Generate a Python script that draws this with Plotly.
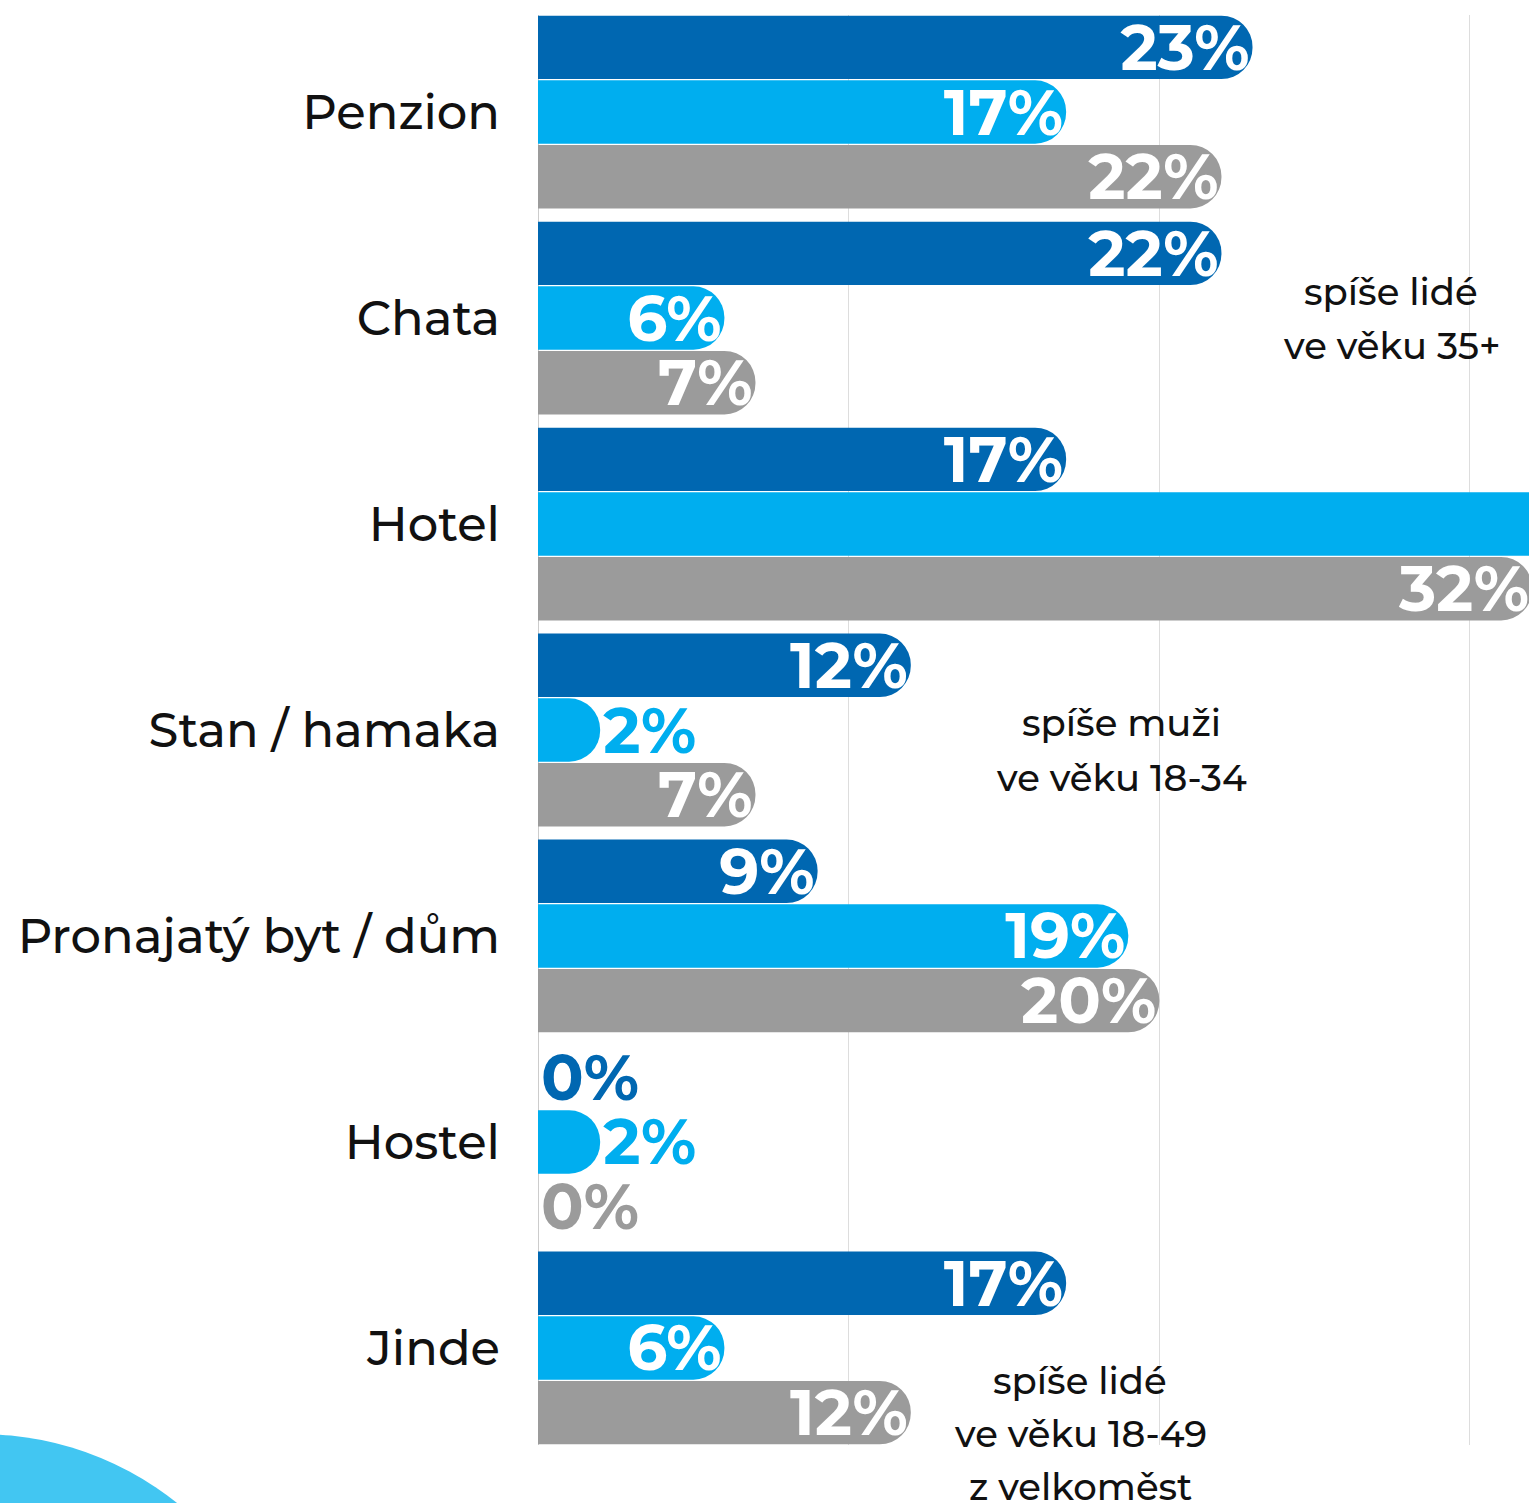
import plotly.graph_objects as go

categories = ["Penzion", "Chata", "Hotel", "Stan / hamaka",
              "Pronajatý byt / dům", "Hostel", "Jinde"]
series_names = ["Série 1", "Série 2", "Série 3"]
values_1 = [23, 22, 17, 12, 9, 0, 17]
values_2 = [17, 6, 48, 2, 19, 2, 6]
values_3 = [22, 7, 32, 7, 20, 0, 12]
colors = ["#0067B1", "#00AEEF", "#9B9B9B"]

notes = [
    {"lines": ["spíše lidé", "ve věku 35+"], "x": 1391, "y": [292, 346]},
    {"lines": ["spíše muži", "ve věku 18-34"], "x": 1121, "y": [722, 777]},
    {"lines": ["spíše lidé", "ve věku 18-49", "z velkoměst"], "x": 1080, "y": [1380, 1433, 1487]},
]

W, H = 1529, 1503
L, R, T, B = 538, 0, 15, 58
FONT = "Montserrat, Noto Sans, sans-serif"
LABEL_SIZE = 63
BARGAP = 0.058


def px_x(px):
    return (px - L) / (W - L - R)


def px_y(py):
    return (H - B - py) / (H - T - B)


fig = go.Figure()

for i, (name, vals, col) in enumerate(zip(series_names, [values_1, values_2, values_3], colors)):
    # rounded bar
    fig.add_trace(go.Bar(
        y=categories, x=vals, name=name, orientation="h",
        offsetgroup=str(i),
        marker=dict(color=col, cornerradius="50%", line=dict(width=0)),
        showlegend=False, hoverinfo="skip",
    ))
    # transparent twin that carries the value label
    fig.add_trace(go.Bar(
        y=categories, x=vals, name=name, orientation="h",
        offsetgroup=str(i),
        marker=dict(color="rgba(0,0,0,0)", line=dict(width=0)),
        text=[f"{v}%" for v in vals],
        textposition=["outside" if v < 4 else "inside" for v in vals],
        insidetextanchor="end",
        insidetextfont=dict(family=FONT, size=LABEL_SIZE, color="white", weight=700),
        outsidetextfont=dict(family=FONT, size=LABEL_SIZE, color=col, weight=700),
        cliponaxis=True,
        showlegend=False,
    ))

for note in notes:
    for line, y in zip(note["lines"], note["y"]):
        fig.add_annotation(
            text=line, xref="paper", yref="paper",
            x=px_x(note["x"]), y=px_y(y),
            xanchor="center", yanchor="middle", showarrow=False,
            font=dict(family=FONT, size=37, color="#111111", weight=500),
        )

# light blue circle cut by the bottom-left corner
fig.add_shape(
    type="circle", xref="paper", yref="paper",
    x0=px_x(-336), x1=px_x(296), y0=px_y(2066), y1=px_y(1434),
    fillcolor="#42C6F2", line=dict(width=0), layer="above",
)

edge = BARGAP / 2
fig.update_layout(
    width=W, height=H,
    margin=dict(l=L, r=R, t=T, b=B, autoexpand=False),
    paper_bgcolor="white", plot_bgcolor="white",
    barmode="group", bargap=BARGAP, bargroupgap=0.02,
    uniformtext=dict(mode="show", minsize=LABEL_SIZE),
    xaxis=dict(
        range=[0, 31.9], dtick=10, showticklabels=False,
        showgrid=True, gridcolor="#DDDDDD", gridwidth=1,
        zeroline=True, zerolinecolor="#CCCCCC", zerolinewidth=1,
    ),
    yaxis=dict(
        range=[len(categories) - 0.5 - edge, -0.5 + edge],
        showgrid=False, ticks="", automargin=False,
        ticklabelstandoff=37,
        tickfont=dict(family=FONT, size=48, color="#111111", weight=500),
    ),
)

fig.write_html("out.html", config={"displayModeBar": False},
               post_script="document.body.style.margin='0';")
